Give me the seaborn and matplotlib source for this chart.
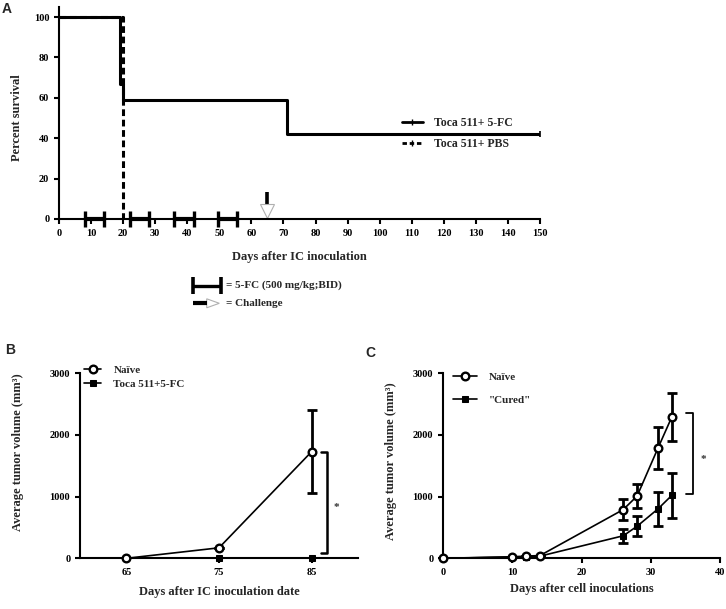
import matplotlib
matplotlib.use("Agg")
import matplotlib.pyplot as plt
from matplotlib.lines import Line2D
from matplotlib.patches import Polygon
import seaborn as sns

# panel A - survival (Kaplan-Meier steps)
fc_days = [0, 19, 20, 71, 150]
fc_surv = [100, 67, 59, 42, 42]
pbs_days = [0, 20]
pbs_surv = [100, 0]
dose_start = [8, 22, 36, 49.5]
dose_end = [14, 28, 42, 55.5]
challenge_day = 65

# panel B - re-challenge after IC inoculation
b_days = [65, 75, 85]
b_naive = [0, 170, 1730]
b_naive_err = [0, 0, 670]
b_toca = [0, 0, 0]

# panel C - "cured" mice vs naive
c_days = [0, 10, 12, 14, 26, 28, 31, 33]
c_naive = [0, 25, 35, 45, 790, 1010, 1785, 2290]
c_naive_err = [0, 0, 0, 0, 170, 200, 340, 390]
c_cured = [0, 20, 25, 35, 365, 520, 800, 1020]
c_cured_err = [0, 0, 0, 0, 110, 165, 270, 370]

W, H = 726, 609

sns.set_style("ticks")
plt.rcParams['font.family'] = ['Liberation Serif', 'DejaVu Serif']
plt.rcParams['font.weight'] = 'bold'
plt.rcParams['axes.labelweight'] = 'bold'
plt.rcParams['axes.linewidth'] = 1.5
plt.rcParams['xtick.major.width'] = 1.5
plt.rcParams['ytick.major.width'] = 1.5
plt.rcParams['xtick.major.size'] = 3.5
plt.rcParams['ytick.major.size'] = 3.5
plt.rcParams['xtick.labelsize'] = 7.5
plt.rcParams['ytick.labelsize'] = 7.5
plt.rcParams['xtick.color'] = 'black'
plt.rcParams['ytick.color'] = 'black'
plt.rcParams['axes.edgecolor'] = 'black'


def fx(px):
    return px / W


def fy(py):
    return 1 - py / H


fig = plt.figure(figsize=(W / 100, H / 100), dpi=100)

axA = fig.add_axes([fx(59), fy(219), (540 - 59) / W, (219 - 7) / H])
axB = fig.add_axes([fx(80), fy(558.3), (358 - 80) / W, (558.3 - 373.3) / H])
axC = fig.add_axes([fx(443), fy(558.3), (720.3 - 443) / W, (558.3 - 373.3) / H])

lab_fs = 9

# ---------------- A ----------------
sns.lineplot(x=fc_days, y=fc_surv, ax=axA, color='black', lw=2.2,
             drawstyle='steps-post', estimator=None, sort=False)
sns.lineplot(x=pbs_days, y=pbs_surv, ax=axA, color='black', lw=2.2,
             drawstyle='steps-post', estimator=None, sort=False,
             dashes=False, linestyle=(0, (2.2, 1.2)))
axA.plot([fc_days[-1]], [fc_surv[-1]], marker='|', color='black',
         markersize=4, mew=1.2, clip_on=False)

# 5-FC dosing bars along the x axis
for s, e in zip(dose_start, dose_end):
    axA.plot([s, e], [0, 0], color='black', lw=3, solid_capstyle='butt',
             clip_on=False, zorder=4)
    axA.plot([s, e], [0, 0], ls='none', marker='|', color='black',
             markersize=11, mew=2.4, clip_on=False, zorder=4)

# challenge arrow
axA.plot([challenge_day, challenge_day], [7, 13.5], color='black', lw=2.6,
         solid_capstyle='butt')
axA.plot([challenge_day], [4], marker='v', markersize=10, mfc='white',
         mec='#b0b0b0', mew=0.8, ls='none')

axA.set_xlim(0, 150)
axA.set_ylim(0, 105)
axA.set_xticks(range(0, 151, 10))
axA.set_yticks(range(0, 101, 20))
axA.set_xlabel("Days after IC inoculation", fontsize=lab_fs)
axA.set_ylabel("Percent survival", fontsize=lab_fs)
axA.xaxis.label.set_va('center')
axA.yaxis.label.set_va('center')
axA.xaxis.set_label_coords(0.5, (219 - 256.7) / 212)
axA.yaxis.set_label_coords((17 - 59) / 481, 0.48)
sns.despine(ax=axA)

hA = [Line2D([], [], color='black', lw=2, marker='|', markersize=4, mew=1),
      Line2D([], [], color='black', lw=2, ls=(0, (1.6, 1.0)), marker='|',
             markersize=4, mew=1)]
axA.legend(hA, ["Toca 511+ 5-FC", "Toca 511+ PBS"], frameon=False,
           loc='center left', bbox_to_anchor=((401.7 - 59) / 481, 0.4026),
           borderaxespad=0, borderpad=0, handlelength=1.8, handletextpad=0.9,
           labelspacing=0.8, fontsize=8.5)

# key below panel A
fig.add_artist(Line2D([fx(193.3), fx(220.7)], [fy(285.7)] * 2, color='black',
                      lw=2.4, solid_capstyle='butt'))
for px in (193.3, 220.7):
    fig.add_artist(Line2D([fx(px)] * 2, [fy(277.3), fy(293.5)], color='black',
                          lw=2.6, solid_capstyle='butt'))
fig.text(fx(226), fy(285.5), "= 5-FC (500 mg/kg;BID)", fontsize=8,
         fontweight='bold', va='center', ha='left')
fig.add_artist(Line2D([fx(192.7), fx(206.7)], [fy(303.3)] * 2, color='black',
                      lw=3, solid_capstyle='butt'))
fig.add_artist(Polygon([(fx(206.7), fy(298.8)), (fx(206.7), fy(307.8)),
                        (fx(219.3), fy(303.3))], closed=True, fc='white',
                       ec='#b0b0b0', lw=0.8, transform=fig.transFigure))
fig.text(fx(226), fy(303.3), "= Challenge", fontsize=8, fontweight='bold',
         va='center', ha='left')

# ---------------- B ----------------
sns.lineplot(x=b_days, y=b_toca, ax=axB, color='black', lw=1.2, marker='s',
             markersize=5, mfc='black', mec='black', label="Toca 511+5-FC",
             estimator=None, sort=False, clip_on=False, zorder=3)
sns.lineplot(x=b_days, y=b_naive, ax=axB, color='black', lw=1.2, marker='o',
             markersize=5.5, mfc='white', mec='black', mew=1.7, label="Naïve",
             estimator=None, sort=False, clip_on=False, zorder=4)
axB.errorbar(b_days, b_naive, yerr=b_naive_err, fmt='none', ecolor='black',
             elinewidth=2, capsize=3.6, capthick=2, zorder=2)
# significance bracket
axB.plot([86, 86.7, 86.7, 86], [b_naive[-1], b_naive[-1], 90, 90],
         color='black', lw=1.8, clip_on=False)
axB.text(87.7, 820, "*", fontsize=8, ha='center', va='center', color='#333333')

axB.set_xlim(60, 90)
axB.set_ylim(0, 3000)
axB.set_xticks(b_days)
axB.set_yticks([0, 1000, 2000, 3000])
axB.set_xlabel("Days after IC inoculation date", fontsize=lab_fs)
axB.set_ylabel("Average tumor volume (mm³)", fontsize=lab_fs)
axB.xaxis.label.set_va('center')
axB.yaxis.label.set_va('center')
axB.xaxis.set_label_coords(0.5, (558.3 - 591.7) / 185)
axB.yaxis.set_label_coords((18 - 80) / 278, 0.575)
sns.despine(ax=axB)
hB, lB = axB.get_legend_handles_labels()
axB.legend(hB[::-1], lB[::-1], frameon=False, loc='center left',
           bbox_to_anchor=((84 - 80) / 278, 0.98), borderaxespad=0,
           borderpad=0, handlelength=1.55, handletextpad=1.1,
           labelspacing=0.35, fontsize=8)

# ---------------- C ----------------
axC.errorbar(c_days, c_naive, yerr=c_naive_err, fmt='none', ecolor='black',
             elinewidth=2, capsize=3.6, capthick=2, zorder=2)
axC.errorbar(c_days, c_cured, yerr=c_cured_err, fmt='none', ecolor='black',
             elinewidth=2, capsize=3.6, capthick=2, zorder=2)
sns.lineplot(x=c_days, y=c_naive, ax=axC, color='black', lw=1.2, marker='o',
             markersize=5.5, mfc='white', mec='black', mew=1.7, label="Naïve",
             estimator=None, sort=False, clip_on=False, zorder=4)
sns.lineplot(x=c_days, y=c_cured, ax=axC, color='black', lw=1.2, marker='s',
             markersize=5, mfc='black', mec='black', label='"Cured"',
             estimator=None, sort=False, clip_on=False, zorder=3)
axC.plot([35.07, 36.03, 36.03, 35.07], [2360, 2360, 1050, 1050],
         color='black', lw=1.3, clip_on=False)
axC.text(37.5, 1610, "*", fontsize=8, ha='center', va='center', color='#333333')

axC.set_xlim(0, 40)
axC.set_ylim(0, 3000)
axC.set_xticks([0, 10, 20, 30, 40])
axC.set_yticks([0, 1000, 2000, 3000])
axC.set_xlabel("Days after cell inoculations", fontsize=lab_fs)
axC.set_ylabel("Average tumor volume (mm³)", fontsize=lab_fs)
axC.xaxis.label.set_va('center')
axC.yaxis.label.set_va('center')
axC.xaxis.set_label_coords(0.5, (558.3 - 589.3) / 185)
axC.yaxis.set_label_coords((391 - 443) / 277.3, 0.525)
sns.despine(ax=axC)
axC.legend(frameon=False, loc='center left',
           bbox_to_anchor=((453 - 443) / 277.3, 0.916), borderaxespad=0,
           borderpad=0, handlelength=2.2, handletextpad=1.05,
           labelspacing=1.2, fontsize=8)

# panel letters
for letter, px, py in (("A", 7, 9), ("B", 10, 350), ("C", 370, 353)):
    fig.text(fx(px), fy(py), letter, fontsize=10, fontweight='bold',
             family=['Liberation Sans', 'DejaVu Sans'], ha='center', va='center')

fig.savefig("out.png", dpi=100)
